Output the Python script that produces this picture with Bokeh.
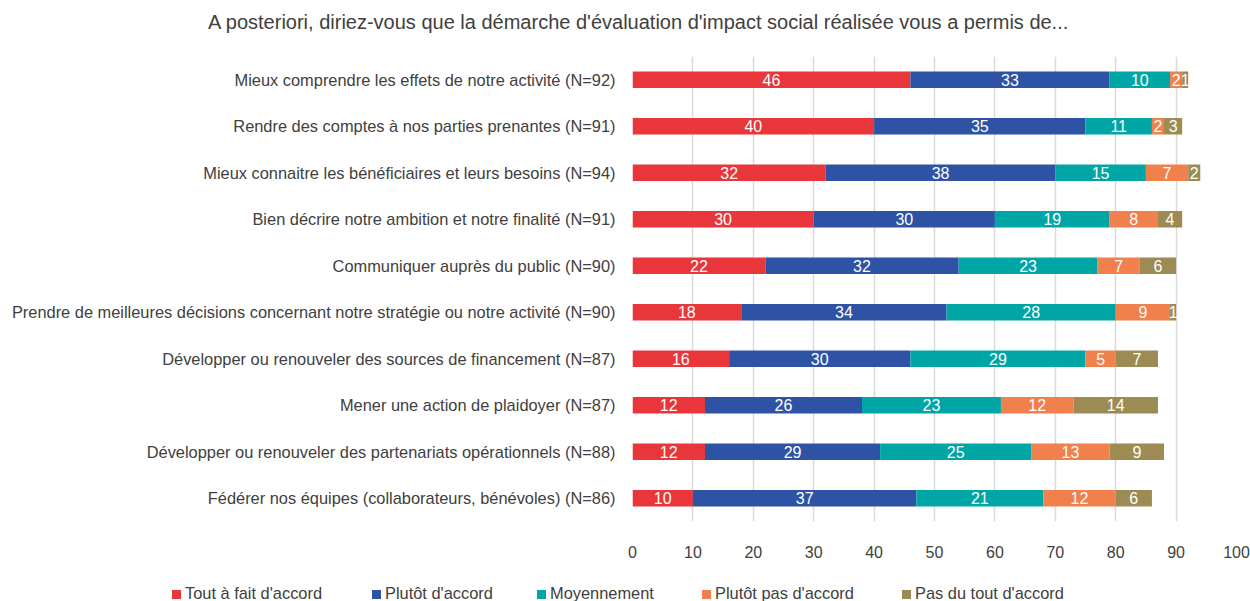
from bokeh.plotting import figure
from bokeh.models import (ColumnDataSource, LabelSet, FixedTicker, Range1d, Div)
from bokeh.layouts import column
from bokeh.core.properties import value
from bokeh.embed import file_html
from bokeh.resources import INLINE

categories = [
    "Mieux comprendre les effets de notre activité (N=92)",
    "Rendre des comptes à nos parties prenantes (N=91)",
    "Mieux connaitre les bénéficiaires et leurs besoins (N=94)",
    "Bien décrire notre ambition et notre finalité (N=91)",
    "Communiquer auprès du public (N=90)",
    "Prendre de meilleures décisions concernant notre stratégie ou notre activité (N=90)",
    "Développer ou renouveler des sources de financement (N=87)",
    "Mener une action de plaidoyer (N=87)",
    "Développer ou renouveler des partenariats opérationnels (N=88)",
    "Fédérer nos équipes (collaborateurs, bénévoles) (N=86)",
]
tout_a_fait = [46, 40, 32, 30, 22, 18, 16, 12, 12, 10]
plutot = [33, 35, 38, 30, 32, 34, 30, 26, 29, 37]
moyennement = [10, 11, 15, 19, 23, 28, 29, 23, 25, 21]
plutot_pas = [2, 2, 7, 8, 7, 9, 5, 12, 13, 12]
pas_du_tout = [1, 3, 2, 4, 6, 1, 7, 14, 9, 6]

series_names = ["Tout à fait d'accord", "Plutôt d'accord", "Moyennement",
                "Plutôt pas d'accord", "Pas du tout d'accord"]
colors = ["#E8363A", "#2E52A4", "#00A5A5", "#F0814C", "#9C8C54"]
x_ticks = [0, 10, 20, 30, 40, 50, 60, 70, 80, 90, 100]
title_text = "A posteriori, diriez-vous que la démarche d'évaluation d'impact social réalisée vous a permis de..."

TEXT = "#404040"
FONT = "Liberation Sans"

n = len(categories)
ypos = [n - 1 - i for i in range(n)]
series = [tout_a_fait, plutot, moyennement, plutot_pas, pas_du_tout]

# ---- title (HTML text above the plot)
title_div = Div(text=title_text, width=1250, height=44, margin=0,
                styles={"font-family": FONT, "font-size": "20px", "color": TEXT,
                        "padding-left": "208px", "padding-top": "10px",
                        "line-height": "24px", "white-space": "nowrap",
                        "box-sizing": "border-box"})

# ---- main chart
p = figure(width=1250, height=537, output_backend="svg", toolbar_location=None,
           x_range=Range1d(0, 100), y_range=Range1d(-0.5, n - 0.5),
           min_border_left=632, min_border_right=14, min_border_top=12,
           min_border_bottom=60, outline_line_color=None, margin=0)

lefts = [0] * n
lab_x, lab_y, lab_t = [], [], []
for s, col in zip(series, colors):
    rights = [l + v for l, v in zip(lefts, s)]
    src = ColumnDataSource(dict(y=ypos, left=lefts, right=rights))
    p.hbar(y="y", left="left", right="right", height=0.355, source=src,
           fill_color=col, line_color=None)
    for l, v, y in zip(lefts, s, ypos):
        lab_x.append(l + v / 2)
        lab_y.append(y)
        lab_t.append(str(v))
    lefts = rights

lsrc = ColumnDataSource(dict(x=lab_x, y=lab_y, t=lab_t))
p.add_layout(LabelSet(x="x", y="y", text="t", source=lsrc, text_color="white",
                      text_font=value(FONT), text_font_size="16px", text_align="center",
                      text_baseline="middle"))

p.xaxis.ticker = FixedTicker(ticks=x_ticks)
p.xaxis.axis_line_color = None
p.xaxis.major_tick_line_color = None
p.xaxis.minor_tick_line_color = None
p.xaxis.major_label_text_font = FONT
p.xaxis.major_label_text_font_size = "16px"
p.xaxis.major_label_text_color = TEXT
p.xaxis.major_label_standoff = 18

p.yaxis.ticker = FixedTicker(ticks=ypos)
p.yaxis.major_label_overrides = {y: c for y, c in zip(ypos, categories)}
p.yaxis.axis_line_color = None
p.yaxis.major_tick_line_color = None
p.yaxis.minor_tick_line_color = None
p.yaxis.major_label_text_font = FONT
p.yaxis.major_label_text_font_size = "16.4px"
p.yaxis.major_label_text_color = TEXT
p.yaxis.major_label_standoff = 11

p.ygrid.grid_line_color = None
p.xgrid.ticker = FixedTicker(ticks=x_ticks)
p.xgrid.grid_line_color = "#D9D9D9"
p.xgrid.grid_line_width = 1.5

# ---- legend (HTML row below the plot)
item_widths = [200, 165, 165, 200, 260]
parts = ['<span style="display:inline-block;width:172px"></span>']
for nm, c, w in zip(series_names, colors, item_widths):
    parts.append(
        f'<span style="display:inline-block;width:{w}px;white-space:nowrap">'
        f'<span style="display:inline-block;width:9px;height:9px;background:{c};'
        f'margin-right:4px;vertical-align:0px"></span>{nm}</span>')
legend_div = Div(text="".join(parts), width=1250, height=20, margin=0,
                 styles={"font-family": FONT, "font-size": "16.4px", "color": TEXT,
                         "line-height": "24px", "white-space": "nowrap"})

layout = column(title_div, p, legend_div, spacing=0)
open("out.html", "w").write(file_html(layout, INLINE))
